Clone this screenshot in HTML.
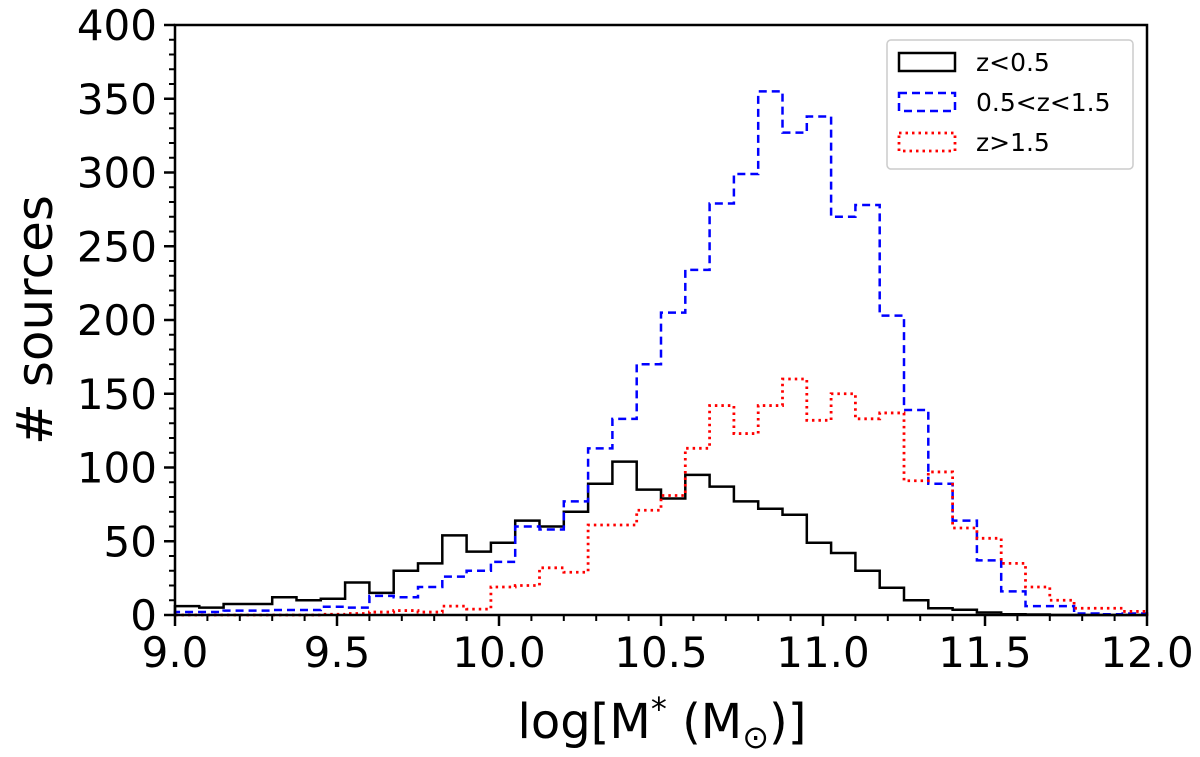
<!DOCTYPE html>
<html><head><meta charset="utf-8"><style>
body{margin:0;background:#fff}
svg{display:block}
text{font-family:"DejaVu Sans","Liberation Sans",sans-serif;fill:#000}
</style></head><body>
<svg id="chart" width="1200" height="757" viewBox="0 0 1200 757">
<g id="series"></g>
<g id="axes"></g>
<g id="legend">
  <rect x="887" y="40" width="246" height="129" rx="4" fill="#fff" fill-opacity="0.8" stroke="#ccc" stroke-width="1.5"/>
  <rect x="899" y="53" width="56" height="18" fill="none" stroke="#000" stroke-width="2.5"/>
  <text x="976" y="71" font-size="25">z&lt;0.5</text>
  <rect x="899" y="93" width="56" height="18" fill="none" stroke="#0000ff" stroke-width="2.5" stroke-dasharray="8,5"/>
  <text x="976" y="111" font-size="25">0.5&lt;z&lt;1.5</text>
  <rect x="899" y="133" width="56" height="18" fill="none" stroke="#ff0000" stroke-width="2.8" stroke-dasharray="2.5,4"/>
  <text x="976" y="151" font-size="25">z&gt;1.5</text>
</g>
</svg>
<script>
const binStart = 9.0;
const binWidth = 0.075;
const lowZ = [6,5,7.5,7.5,12,10,11,22,15,30,35,54,43,49,64,60,70,89,104,85,79,95,87,77,72,68,49,42,30,18.5,10,4.6,3.6,1.7,0.5,0.3,0,0,0,0];
const midZ = [2,2,3,3,3.4,3.4,5.6,5,13,12,19,26,30,36,60,58,77,113,133,170,205,234,279,299,355,327,338,270,278,203,139,89,64,37,16,6,6,1,0.5,1];
const highZ = [0,0,0,0,0,0,0.5,1,2,3,2,6,4,19,20,32,29,61,61,71,81,113,142,123,142,160,132,150,133,137,91,97,59,52,35,19,10,4.6,4.6,2.4];
const xTicks = [9.0,9.5,10.0,10.5,11.0,11.5,12.0];
const yTicks = [0,50,100,150,200,250,300,350,400];

const NS="http://www.w3.org/2000/svg";
const L=175,R=1147,T=25,B=615;
const xs=v=>L+(v-9)/(12-9)*(R-L);
const ys=v=>B-v/400*(B-T);
function mk(tag,attrs,parent){const e=document.createElementNS(NS,tag);for(const k in attrs)e.setAttribute(k,attrs[k]);parent.appendChild(e);return e;}
const sg=document.getElementById('series'), ag=document.getElementById('axes');
function stepPath(vals){
  let d=`M${xs(binStart)},${ys(0)}`;
  vals.forEach((v,i)=>{const x0=xs(binStart+i*binWidth),x1=xs(binStart+(i+1)*binWidth);d+=` L${x0},${ys(v)} L${x1},${ys(v)}`;});
  d+=` L${xs(binStart+vals.length*binWidth)},${ys(0)}`;
  return d;
}
const defs=[[lowZ,'#000','',2.5,'series-low-z'],[midZ,'#0000ff','8,5',2.5,'series-mid-z'],[highZ,'#ff0000','2.5,4',2.8,'series-high-z']];
defs.forEach(([vals,col,dash,w,name])=>{
  const p=mk('path',{d:stepPath(vals),fill:'none',stroke:col,'stroke-width':w},sg);
  if(dash)p.setAttribute('stroke-dasharray',dash);
  
  
});
const fr=mk('rect',{x:L,y:T,width:R-L,height:B-T,fill:'none',stroke:'#000','stroke-width':2.5},ag);


for(let v=9.0;v<=12.001;v+=0.1){mk('line',{x1:xs(v),x2:xs(v),y1:B,y2:B+6,stroke:'#000','stroke-width':2},ag);}
for(let v=0;v<=400;v+=10){mk('line',{x1:L-6,x2:L,y1:ys(v),y2:ys(v),stroke:'#000','stroke-width':2},ag);}
xTicks.forEach(v=>{
  mk('line',{x1:xs(v),x2:xs(v),y1:B,y2:B+11,stroke:'#000','stroke-width':2.5},ag);
  const t=mk('text',{x:xs(v),y:B+52,'text-anchor':'middle','font-size':42},ag);
  t.textContent=v.toFixed(1);
  
  
});
yTicks.forEach(v=>{
  mk('line',{x1:L-11,x2:L,y1:ys(v),y2:ys(v),stroke:'#000','stroke-width':2.5},ag);
  const t=mk('text',{x:L-18,y:ys(v)+15,'text-anchor':'end','font-size':42},ag);
  t.textContent=v;
  
  
});
const yl=mk('text',{x:0,y:0,'text-anchor':'middle','font-size':50,transform:`translate(52,${(T+B)/2}) rotate(-90)`},ag);
yl.textContent='# sources';


const xl=mk('text',{x:662,y:738,'text-anchor':'middle','font-size':48},ag);
xl.innerHTML='log[M<tspan dy="-18" font-size="32">*</tspan><tspan dy="18"> (M</tspan><tspan dy="10" font-size="32">⊙</tspan><tspan dy="-10">)]</tspan>';


</script>
</body></html>
